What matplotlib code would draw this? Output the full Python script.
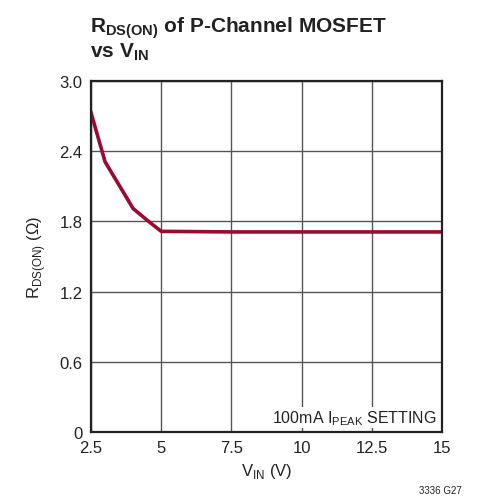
import matplotlib
matplotlib.use("Agg")
import matplotlib.pyplot as plt

plt.rcParams['font.family'] = ['Liberation Sans Narrow', 'Liberation Sans', 'DejaVu Sans']
plt.rcParams['mathtext.fontset'] = 'custom'
plt.rcParams['mathtext.rm'] = 'Liberation Sans'
plt.rcParams['mathtext.bf'] = 'Liberation Sans:bold'

# data
vin = [2.5, 3.0, 3.5, 4.0, 4.5, 5.0, 7.5, 10, 12.5, 15]
rds = [2.73, 2.31, 2.11, 1.91, 1.81, 1.715, 1.71, 1.71, 1.71, 1.71]

x_ticks = [2.5, 5, 7.5, 10, 12.5, 15]
x_labels = ['2.5', '5', '7.5', '10', '12.5', '15']
y_ticks = [0, 0.6, 1.2, 1.8, 2.4, 3.0]
y_labels = ['0', '0.6', '1.2', '1.8', '2.4', '3.0']

fig = plt.figure(figsize=(4.82, 5.02), dpi=100)
ax = fig.add_axes([91 / 482, 1 - 433 / 502, 351 / 482, 351 / 502])

ax.plot(vin, rds, color='#9b0a30', lw=2.6, solid_joinstyle='round')
ax.set_xlim(2.5, 15)
ax.set_ylim(0, 3.0)
ax.set_xticks(x_ticks)
ax.set_xticklabels(x_labels)
ax.set_yticks(y_ticks)
ax.set_yticklabels(y_labels)
ax.grid(True, color='#555555', lw=1.0)
ax.tick_params(length=0, labelsize=12, colors='#222222', pad=6)
for s in ax.spines.values():
    s.set_linewidth(1.6)
    s.set_color('#222222')

ax.set_xlabel(r'V$_{\mathregular{IN}}$ (V)', fontsize=12, color='#222222', labelpad=4)
ax.set_ylabel(r'R$_{\mathregular{DS(ON)}}$ ($\Omega$)', fontsize=12, color='#222222', labelpad=8)

fig.text(90 / 482, 1 - 15 / 502, r'R$_{\mathbf{DS(ON)}}$ of P-Channel MOSFET' + '\n' + r'vs V$_{\mathbf{IN}}$',
         fontsize=15, fontweight='bold', color='#222222', va='top', ha='left', linespacing=1.05)

ax.text((437 - 91) / 351, 0.015, r'100mA I$_{\mathregular{PEAK}}$ SETTING', fontsize=11.5, color='#222222',
        ha='right', va='bottom', transform=ax.transAxes,
        bbox=dict(facecolor='white', edgecolor='none', pad=1))
fig.text(462 / 482, 1 - 494 / 502, '3336 G27', fontsize=7, color='#222222', ha='right')

fig.savefig('out.png', dpi=100)
